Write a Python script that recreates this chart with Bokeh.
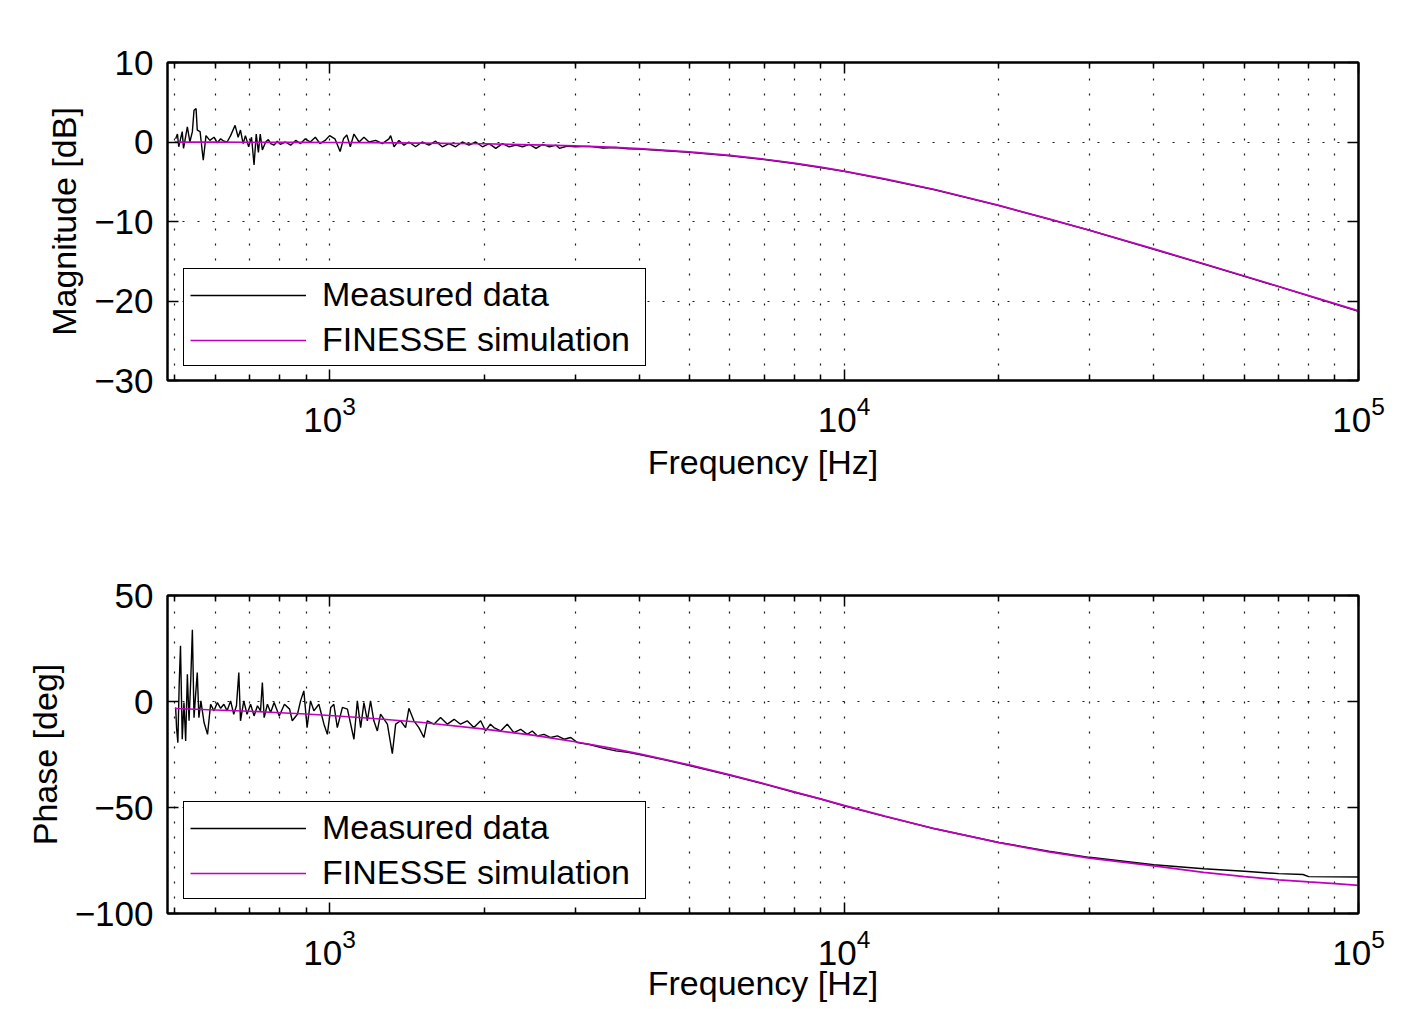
from bokeh.plotting import figure
from bokeh.models import (FixedTicker, LogAxis, LinearAxis, Legend, LegendItem,
                          Range1d, CustomJSTickFormatter)
from bokeh.layouts import column
from bokeh.embed import file_html
from bokeh.resources import INLINE

FONT = "Liberation Sans"
FS = "34px"
TICK_FS = "35px"
MAGENTA = "#c000c0"

# ---------------- data ----------------
freq_major = [1000, 10000, 100000]
freq_minor = [500, 600, 700, 800, 900,
              2000, 3000, 4000, 5000, 6000, 7000, 8000, 9000,
              20000, 30000, 40000, 50000, 60000, 70000, 80000, 90000]

mag_ticks = [-30, -20, -10, 0, 10]
mag_tick_labels = ["\u221230", "\u221220", "\u221210", "0", "10"]
phase_ticks = [-100, -50, 0, 50]
phase_tick_labels = ["\u2212100", "\u221250", "0", "50"]

sim_freq = [500, 600, 700, 800, 900, 1000, 1200, 1500, 2000, 2500, 3000, 3500,
            4000, 5000, 6000, 7000, 8000, 9000, 10000, 12000, 15000, 20000,
            25000, 30000, 40000, 50000, 60000, 70000, 80000, 90000, 100000]
sim_mag = [-0.01, -0.02, -0.03, -0.04, -0.05, -0.06, -0.08, -0.13, -0.22, -0.35,
           -0.49, -0.65, -0.84, -1.24, -1.69, -2.17, -2.66, -3.16, -3.66, -4.63,
           -5.98, -7.98, -9.67, -11.10, -13.45, -15.32, -16.86, -18.18, -19.32,
           -20.33, -21.24]
sim_phase = [-3.3, -4.0, -4.6, -5.3, -5.9, -6.6, -7.9, -9.8, -13.0, -16.0, -19.0,
             -21.9, -24.7, -29.9, -34.6, -38.8, -42.6, -45.9, -49.0, -54.1, -60.0,
             -66.6, -70.9, -73.9, -77.5, -80.6, -82.6, -84.1, -85.1, -85.9, -86.7]

meas_mag_freq = [502, 506, 509, 517, 520, 529, 535, 541, 545, 550, 553, 560, 568,
                 575, 585, 596, 605, 614, 623, 632, 642, 655, 664, 671, 679, 686,
                 696, 705, 713, 720, 727, 733, 740, 751, 760, 768, 780, 791, 802,
                 820, 840, 859, 878, 897, 917, 938, 958, 980, 1000, 1024, 1048,
                 1064, 1080, 1097, 1115, 1141, 1166, 1193, 1229, 1266, 1304, 1314,
                 1334, 1364, 1395, 1426, 1469, 1513, 1560, 1607, 1656, 1706, 1758,
                 1811, 1866, 1923, 1982, 2042, 2104, 2168, 2234, 2302, 2372, 2444,
                 2519, 2595, 2674, 2756, 2797, 2900, 3000, 3200, 3400, 3600, 3800,
                 4000, 4500, 5000, 6000, 7000, 8000, 9000, 10000, 12000, 15000,
                 20000, 25000, 30000, 40000, 50000, 60000, 70000, 80000, 90000,
                 100000]
meas_mag = [0.4, 1.0, -0.6, 1.3, -0.8, 1.9, 0.0, 1.3, 4.0, 4.2, 1.5, 1.3, -2.3,
            0.8, 0.2, 0.6, -0.1, 0.4, 0.1, 0.0, 0.8, 2.1, 0.6, 1.5, -0.2, 0.8,
            -0.6, 0.6, -2.9, 1.0, -1.3, 1.0, -1.0, 0.0, 0.3, -0.2, -0.4, 0.1, -0.3,
            0.0, -0.4, 0.2, -0.2, 0.4, 0.0, 0.6, -0.2, 0.2, 0.8, 0.4, -1.2,
            0.4, 0.9, -0.6, 1.0, 0.0, 0.6, 0.0, 0.2, -0.2, 0.4, 0.8,
            -0.6, 0.2, -0.4, 0.0, -0.6, 0.0, -0.4, 0.1, -0.6, -0.2, -0.6,
            0.0, -0.4, 0.0, -0.6, -0.2, -0.8, -0.2, -0.6, -0.4, -0.6, -0.3,
            -0.8, -0.3, -0.6, -0.4, -0.8, -0.5, -0.6, -0.55, -0.75, -0.7, -0.85,
            -0.9, -1.1, -1.3, -1.75, -2.2, -2.7, -3.2, -3.7, -4.7, -6.0,
            -8.0, -9.7, -11.1, -13.5, -15.35, -16.9, -18.2, -19.35, -20.4,
            -21.3]

meas_phase_freq = [502, 504, 507, 510, 513, 517, 521, 525, 529, 533, 537, 541, 545,
                   549, 553, 557, 562, 570, 579, 587, 596, 605, 614, 623, 632, 642,
                   651, 659, 666, 671, 681, 691, 702, 713, 724, 734, 740, 746, 757,
                   768, 780, 798, 817, 836, 846, 866, 878, 891, 904, 918, 932, 953,
                   975, 990, 1005, 1019, 1035, 1059, 1083, 1115, 1132, 1149, 1166,
                   1184, 1201, 1219, 1238, 1256, 1295, 1324, 1344, 1374, 1405, 1426,
                   1458, 1491, 1525, 1548, 1595, 1643, 1694, 1746, 1797, 1851, 1907,
                   1966, 2010, 2054, 2086, 2150, 2214, 2281, 2351, 2422, 2477, 2533,
                   2611, 2690, 2772, 2856, 2943, 3032, 3200, 3400, 3600, 3800, 4000,
                   4500, 5000, 6000, 7000, 8000, 9000, 10000, 12000, 15000, 20000,
                   25000, 30000, 40000, 50000, 60000, 70000, 78000, 80000, 100000]
meas_phase = [-2.8, -12.3, -19.4, 8.2, 26.3, -17.8, -0.5, -18.6, 12.9, -9.1, 9.8,
              33.8, -7.6, 3.5, 13.7, -7.6, 0.3, -9.9, -15.5, -1.3, -4.4, -0.5, -3.2,
              -1.3, -4.4, 0.3, -6.0, -2.0, 13.7, -9.1, 0.3, -6.0, -1.3, -6.8, -2.0,
              -4.4, 9.0, -7.6, -1.3, -5.2, -0.5, -6.8, -1.3, -3.6, -9.1, -6.0, 0.3,
              5.0, -12.3, 0.3, -4.4, -1.3, -10.7, -15.5, -2.8, -1.3, -12.3, -2.8,
              -3.6, -17.8, 0.3, -12.3, -0.5, -9.1, 0.3, -9.1, -13.9, -6.0, -10.7,
              -24.6, -10.7, -9.1, -12.3, -3.2, -9.1, -12.3, -17.0, -9.1, -10.7,
              -7.6, -10.7, -8.4, -10.7, -9.1, -12.3, -9.1, -13.9, -10.7, -12.3,
              -13.9, -10.7, -14.7, -13.1, -15.5, -13.9, -16.2, -15.5, -17.0, -16.2,
              -17.8, -17.0, -19.4, -20.3, -22.0, -23.3, -24.0, -25.0, -27.6, -30.2,
              -34.8, -39.0, -42.8, -46.0, -49.2, -54.2, -60.0, -66.5, -70.6, -73.5,
              -77.0, -78.9, -80.1, -81.2, -81.6, -82.6, -82.8]

# ---------------- figure builder ----------------
FIG_W = 1400
LEFT = 167
FRAME_W = 1191
FRAME_H = 318


def style_axis(ax):
    ax.axis_line_color = "black"
    ax.axis_line_width = 2
    ax.major_tick_in = 11
    ax.major_tick_out = 0
    ax.minor_tick_in = 6
    ax.minor_tick_out = 0
    ax.major_tick_line_width = 1.5
    ax.minor_tick_line_width = 1.5
    ax.major_tick_line_color = "black"
    ax.minor_tick_line_color = "black"
    ax.major_label_text_font = FONT
    ax.major_label_text_color = "black"


def make_panel(height, border_top, border_bottom, y_lo, y_hi, yticks, ylabels,
               ylabel, meas_f, meas_v, sim_f, sim_v, xlabel_standoff):
    p = figure(width=FIG_W, height=height, x_axis_type="log",
               x_range=Range1d(484, 100000), y_range=Range1d(y_lo, y_hi),
               output_backend="svg", toolbar_location=None,
               min_border_left=LEFT, min_border_right=FIG_W - LEFT - FRAME_W,
               min_border_top=border_top, min_border_bottom=border_bottom)
    p.background_fill_color = "white"
    p.border_fill_color = "white"
    p.outline_line_color = "black"
    p.outline_line_width = 2
    p.outline_line_alpha = 1

    xt = FixedTicker(ticks=freq_major, minor_ticks=freq_minor)
    yt = FixedTicker(ticks=yticks)

    xa = p.xaxis[0]
    xa.ticker = xt
    style_axis(xa)
    xa.major_label_text_font_size = TICK_FS
    xa.major_label_standoff = 15
    xa.axis_label = "Frequency [Hz]"
    xa.axis_label_text_font = FONT
    xa.axis_label_text_font_size = FS
    xa.axis_label_text_font_style = "normal"
    xa.axis_label_text_color = "black"
    xa.axis_label_standoff = xlabel_standoff

    ya = p.yaxis[0]
    ya.ticker = yt
    style_axis(ya)
    ya.major_label_text_font_size = TICK_FS
    ya.major_label_standoff = 14
    ya.major_label_overrides = {t: s for t, s in zip(yticks, ylabels)}
    ya.axis_label = ylabel
    ya.axis_label_text_font = FONT
    ya.axis_label_text_font_size = FS
    ya.axis_label_text_font_style = "normal"
    ya.axis_label_text_color = "black"
    ya.axis_label_standoff = 8

    top = LogAxis(ticker=xt, formatter=CustomJSTickFormatter(code="return ''"))
    style_axis(top)
    top.major_label_text_font_size = "1px"
    top.major_label_standoff = 0
    p.add_layout(top, "above")
    right = LinearAxis(ticker=yt, formatter=CustomJSTickFormatter(code="return ''"))
    style_axis(right)
    right.major_label_text_font_size = "1px"
    right.major_label_standoff = 0
    p.add_layout(right, "right")

    p.xgrid.ticker = xt
    p.ygrid.ticker = yt
    for g in (p.xgrid[0], p.ygrid[0]):
        g.grid_line_color = "black"
        g.grid_line_width = 1.2
        g.grid_line_dash = "2 13"
        g.grid_line_alpha = 0.9
    p.xgrid[0].minor_grid_line_color = "black"
    p.xgrid[0].minor_grid_line_width = 1.2
    p.xgrid[0].minor_grid_line_dash = "2 13"
    p.xgrid[0].minor_grid_line_alpha = 0.9

    r1 = p.line(meas_f, meas_v, line_color="black", line_width=1.4)
    r2 = p.line(sim_f, sim_v, line_color=MAGENTA, line_width=1.7)

    legend = Legend(items=[LegendItem(label="Measured data", renderers=[r1]),
                           LegendItem(label="FINESSE simulation", renderers=[r2])],
                    location=(16, 14))
    legend.margin = 0
    legend.padding = 6
    legend.spacing = 6
    legend.glyph_width = 116
    legend.glyph_height = 36
    legend.label_height = 36
    legend.label_width = 317
    legend.label_standoff = 16
    legend.label_text_font = FONT
    legend.label_text_font_size = FS
    legend.label_text_color = "black"
    legend.border_line_color = "black"
    legend.border_line_width = 1.8
    legend.border_line_alpha = 1
    legend.background_fill_color = "white"
    legend.background_fill_alpha = 1
    p.add_layout(legend)
    return p


top_h = 530
p1 = make_panel(top_h, 62, top_h - 62 - FRAME_H, -30, 10, mag_ticks, mag_tick_labels,
                "Magnitude [dB]", meas_mag_freq, meas_mag, sim_freq, sim_mag, 8)
bot_h = 1009 - top_h
bt = 595 - top_h
p2 = make_panel(bot_h, bt, bot_h - bt - FRAME_H, -100, 50, phase_ticks,
                phase_tick_labels, "Phase [deg]", meas_phase_freq, meas_phase,
                sim_freq, sim_phase, -4)

layout = column(p1, p2, spacing=0)
open("out.html", "w").write(file_html(layout, INLINE))
